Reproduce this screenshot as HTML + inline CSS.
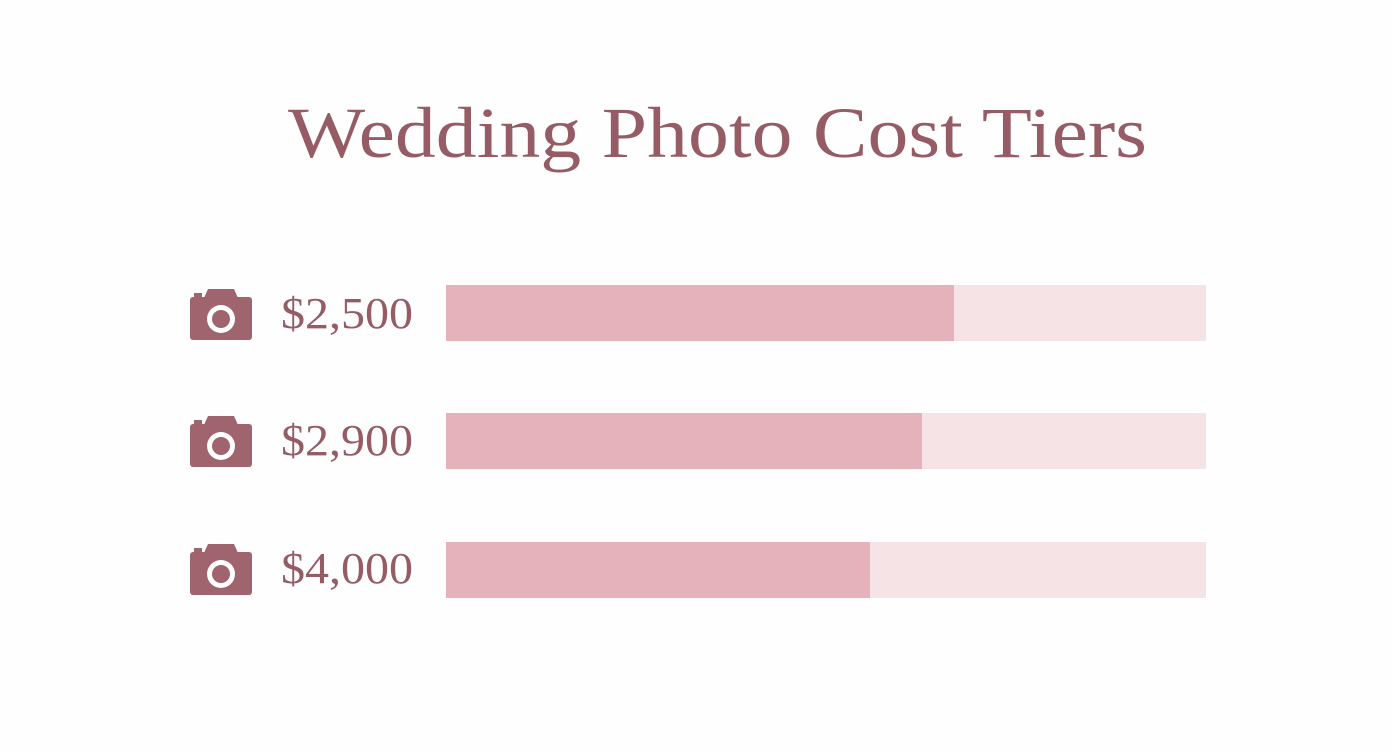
<!DOCTYPE html>
<html><head><meta charset="utf-8"><style>
html,body{margin:0;padding:0;background:#fefefe;}
svg{display:block}
text{font-family:"Liberation Serif",serif;fill:#955c66}
</style></head><body>
<svg width="1392" height="752" viewBox="0 0 1392 752" xmlns="http://www.w3.org/2000/svg">
<rect width="1392" height="752" fill="#fefefe"/>
<text x="288" y="157" font-size="72" textLength="859" lengthAdjust="spacingAndGlyphs">Wedding Photo Cost Tiers</text>
<defs>
<g id="cam">
<rect x="0" y="8" width="62" height="43" rx="3" fill="#a0646e"/>
<path d="M14 9 L18 0 L44 0 L48 9 Z" fill="#a0646e"/>
<rect x="4" y="4" width="8" height="6" fill="#a0646e"/>
<circle cx="31" cy="30" r="14" fill="#fff"/>
<circle cx="31" cy="30" r="9" fill="#a0646e"/>
</g>
</defs>
<use href="#cam" x="190" y="289"/>
<use href="#cam" x="190" y="416"/>
<use href="#cam" x="190" y="544"/>
<text x="281" y="328" font-size="44" textLength="132" lengthAdjust="spacingAndGlyphs">$2,500</text>
<text x="281" y="455" font-size="44" textLength="132" lengthAdjust="spacingAndGlyphs">$2,900</text>
<text x="281" y="583" font-size="44" textLength="132" lengthAdjust="spacingAndGlyphs">$4,000</text>
<rect x="446" y="285" width="760" height="56" fill="#f6e3e5"/>
<rect x="446" y="285" width="508" height="56" fill="#e5b1bb"/>
<rect x="446" y="413" width="760" height="56" fill="#f6e3e5"/>
<rect x="446" y="413" width="476" height="56" fill="#e5b1bb"/>
<rect x="446" y="542" width="760" height="56" fill="#f6e3e5"/>
<rect x="446" y="542" width="424" height="56" fill="#e5b1bb"/>
</svg>
</body></html>
